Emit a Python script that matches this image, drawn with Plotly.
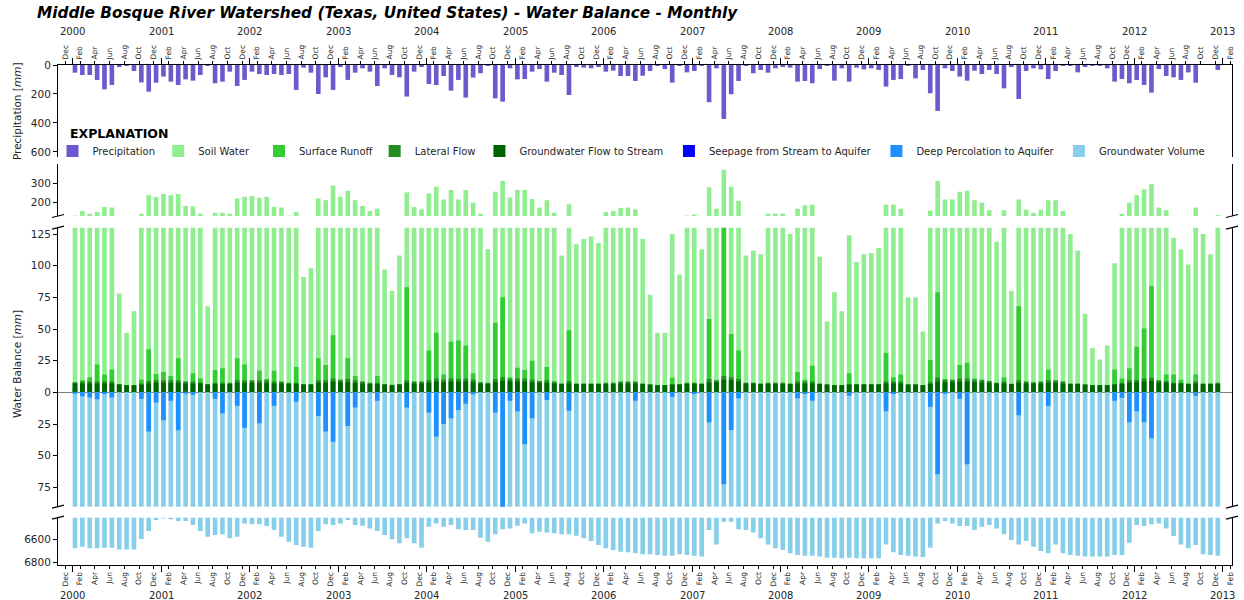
import plotly.graph_objects as go

# ---------------- DATA (monthly, Jan 2000 - Dec 2012) ----------------
start_year = 2000
n_months = 156

precipitation = [
    53, 69, 69, 103, 168, 138, 11, 2, 41, 120, 184, 122,
    80, 115, 138, 99, 108, 69, 3, 126, 115, 46, 145, 103,
    46, 62, 69, 62, 69, 62, 172, 18, 53, 200, 85, 172,
    7, 103, 53, 23, 46, 145, 23, 69, 85, 218, 46, 11,
    131, 138, 76, 177, 103, 225, 87, 57, 2, 230, 253, 23,
    99, 97, 46, 28, 115, 53, 69, 207, 11, 18, 23, 7,
    46, 39, 76, 76, 110, 74, 41, 5, 28, 122, 1, 51,
    41, 5, 257, 23, 372, 202, 110, 3, 57, 34, 53, 23,
    11, 18, 115, 110, 126, 28, 3, 108, 23, 115, 18, 30,
    23, 34, 149, 103, 97, 3, 92, 34, 195, 317, 23, 41,
    80, 108, 39, 62, 34, 62, 161, 11, 234, 41, 23, 30,
    97, 41, 3, 5, 51, 11, 2, 5, 23, 115, 97, 126,
    103, 138, 191, 28, 76, 85, 103, 51, 122, 0, 0, 34,
]

soil_water = [
    132, 156, 142, 151, 177, 174, 78, 47, 64, 142, 238, 229,
    244, 238, 244, 182, 180, 142, 68, 147, 147, 142, 221, 230,
    233, 225, 230, 177, 174, 132, 151, 91, 98, 221, 212, 288,
    230, 261, 212, 182, 156, 168, 97, 80, 108, 253, 177, 165,
    247, 282, 216, 265, 216, 265, 200, 142, 113, 256, 312, 226,
    265, 265, 218, 174, 212, 147, 108, 191, 117, 121, 123, 118,
    151, 156, 172, 174, 165, 121, 77, 47, 47, 125, 93, 132,
    137, 113, 279, 168, 370, 282, 209, 108, 112, 109, 142, 142,
    142, 125, 168, 186, 189, 107, 56, 79, 64, 124, 103, 109,
    110, 114, 189, 189, 168, 75, 75, 48, 158, 312, 216, 216,
    256, 261, 212, 200, 160, 119, 160, 80, 216, 163, 147, 163,
    212, 212, 156, 125, 112, 62, 35, 26, 37, 102, 142, 200,
    238, 268, 295, 174, 160, 122, 113, 101, 174, 125, 109, 135,
]

surface_runoff = [
    3, 9.5, 12, 22, 14, 18, 2, 1, 1, 10, 34, 14.5,
    16, 13, 27, 3, 15, 11, 1, 17.6, 19, 4, 27, 22,
    4, 17, 10.5, 17, 3, 2, 20, 1, 1, 27, 21.6, 45,
    4, 27, 13, 3, 3, 13, 1, 1, 2, 83, 3, 3,
    33, 47, 14, 40, 41, 37, 15, 3, 2, 55, 75, 12,
    19.5, 17.6, 25, 3, 20, 9, 2, 49, 2, 2, 2, 2,
    3, 3, 3, 3, 3, 2, 1, 0.5, 0.5, 11.6, 2, 3,
    3, 2, 58, 3, 131, 46, 33, 3, 2, 2, 3, 3,
    3, 2, 16, 10, 21, 2, 1, 1, 1, 15, 2, 2,
    2, 2, 31, 12, 14, 1, 1, 1, 25.5, 79, 10.5, 3,
    21.6, 23.4, 11, 3, 3, 2, 12, 1, 68, 3, 2, 3,
    18, 3, 3, 2, 2, 1, 0.5, 0.5, 0.5, 18, 11, 19,
    36, 50.5, 84, 3, 14, 14, 10, 2, 14, 2, 2, 1,
]

lateral_flow = [
    8, 8.5, 8.5, 8.5, 8.5, 8.5, 6.5, 5.8, 5.8, 7, 9, 9.5,
    9.5, 9.5, 9.5, 8.5, 8.5, 8, 6.5, 7.5, 7.5, 7.5, 9.5, 9.5,
    9.5, 9.5, 9.5, 8.5, 8.5, 7.5, 7.5, 6.5, 6.5, 9.5, 9.5, 11,
    10, 10.5, 9.5, 8.5, 7.5, 7.5, 6.5, 6, 6.5, 9.5, 8.5, 8.5,
    9.5, 11, 10, 11, 10.5, 11, 10, 8, 7.5, 10.5, 12, 10.5,
    11, 11, 10, 9, 9.5, 8, 7, 9, 7, 7, 7, 7,
    7.5, 7.5, 8.5, 8.5, 8.5, 7, 6.3, 5.8, 5.8, 6.5, 6.5, 7.5,
    7.5, 7, 10.5, 9.5, 13, 12, 10.5, 7.5, 7.5, 7, 7.5, 7.5,
    7.5, 7, 8.5, 8.5, 8.5, 7, 6.3, 5.8, 5.8, 6.5, 6.5, 6.5,
    6.5, 6.5, 8.5, 8.5, 8.5, 6.3, 6.3, 5.8, 8, 11.5, 10, 10,
    11, 11, 10, 10, 9, 7.5, 8.5, 6.8, 9.5, 8.5, 8, 8.5,
    9.5, 9.5, 8.5, 7, 7, 6.3, 5.7, 5.7, 5.7, 6.5, 7.5, 9.5,
    10, 11, 11.5, 9.5, 9, 7.5, 7.5, 7, 8.5, 7, 7, 7.5,
]

groundwater_flow = [
    7, 7, 7, 7, 7, 7, 6, 5.5, 5.5, 6, 7, 7.5,
    7.5, 7.5, 7.5, 7, 7, 7, 6, 6.5, 6.5, 6.5, 7.5, 7.5,
    7.5, 7.5, 7.5, 7, 7, 6.5, 6.5, 6, 6, 7.5, 7.5, 8.5,
    8, 8, 7.5, 7, 6.5, 6.5, 6, 5.5, 6, 7.5, 7, 7,
    7.5, 8.5, 8, 8.5, 8.5, 8.5, 8, 7, 6.5, 8, 9, 8.5,
    8.5, 8.5, 8, 7.5, 7.5, 7, 6.5, 7, 6.5, 6.5, 6.5, 6.5,
    6.5, 6.5, 7, 7, 7, 6.5, 6, 5.5, 5.5, 6, 6, 6.5,
    6.5, 6.5, 8, 8, 10, 9.5, 8.5, 7, 7, 6.5, 6.5, 6.5,
    6.5, 6.5, 7, 7, 7, 6.5, 6, 5.5, 5.5, 6, 6, 6,
    6, 6, 7, 7, 7, 6, 6, 5.5, 6.5, 8.5, 8, 8,
    8.5, 8.5, 8, 8, 7.5, 7, 7, 6.5, 7.5, 7, 7, 7,
    7.5, 7.5, 7, 6.5, 6.5, 6, 5.5, 5.5, 5.5, 6, 6.5, 7.5,
    8, 8.5, 9, 8, 7.5, 7, 7, 6.5, 7, 6.5, 6.5, 6.5,
]

seepage = [0] * 156

deep_percolation = [
    1, 3, 4, 5.5, 1.3, 4, 0, 0, 0, 5, 31, 8,
    22, 6.6, 30, 1, 2, 0, 0, 5, 16.6, 0, 10.5, 28,
    0, 24.5, 0, 10.5, 0, 0, 7.4, 0, 0, 18.7, 31, 39,
    0, 26.6, 12, 0, 0, 6.6, 0, 0, 0, 12, 0, 0,
    16, 35, 25, 20.5, 14, 9, 1.5, 0, 0, 16, 95, 6.6,
    15, 41, 20.5, 0, 6, 0, 0, 14.5, 0, 0, 0, 0,
    0, 0, 0, 0, 6.6, 0, 0, 0, 0, 3.4, 0, 0,
    1.3, 0, 23.7, 0, 72.6, 29.7, 4.7, 0, 0, 0, 0, 0,
    0, 0, 4.7, 1.3, 6.6, 0, 0, 0, 0, 2.6, 0, 0,
    0, 0, 15, 1.3, 0, 0, 0, 0, 11.3, 64.7, 0.8, 0,
    5, 56.8, 0, 0, 0, 0, 0, 0, 18, 0, 0, 0,
    10.8, 0, 0, 0, 0, 0, 0, 0, 0, 6.6, 4.2, 23.7,
    15, 23.7, 36.3, 0, 0, 0, 0, 0, 2.6, 0, 0, 0,
]

groundwater_volume = [
    6680, 6666, 6680, 6680, 6674, 6674, 6689, 6689, 6689, 6600, 6531, 6437,
    6423, 6431, 6446, 6446, 6480, 6531, 6580, 6566, 6560, 6594, 6580, 6466,
    6474, 6474, 6489, 6523, 6580, 6623, 6651, 6666, 6674, 6531, 6474, 6480,
    6466, 6437, 6480, 6486, 6509, 6531, 6566, 6603, 6637, 6594, 6637, 6674,
    6494, 6466, 6494, 6480, 6517, 6523, 6523, 6589, 6623, 6560, 6517, 6509,
    6486, 6466, 6551, 6537, 6543, 6551, 6560, 6560, 6571, 6594, 6617, 6651,
    6680, 6694, 6709, 6714, 6723, 6731, 6731, 6737, 6743, 6743, 6731, 6737,
    6743, 6751, 6523, 6646, 6451, 6451, 6517, 6523, 6543, 6594, 6646, 6680,
    6694, 6723, 6737, 6743, 6743, 6751, 6760, 6760, 6766, 6760, 6766, 6766,
    6766, 6766, 6646, 6714, 6737, 6743, 6751, 6755, 6674, 6466, 6446, 6466,
    6489, 6489, 6523, 6494, 6480, 6509, 6560, 6609, 6646, 6617, 6666, 6703,
    6723, 6646, 6723, 6737, 6743, 6751, 6751, 6751, 6751, 6737, 6737, 6631,
    6480, 6489, 6474, 6466, 6509, 6574, 6646, 6680, 6651, 6731, 6737, 6743,
]

month_tick_names = ["Dec", "Feb", "Apr", "Jun", "Aug", "Oct"]
year_labels = [str(y) for y in range(2000, 2014)]

# ---------------- GEOMETRY ----------------
W, H = 1244, 600
L, R, T, B = 58, 9, 65, 35
PW, PH = W - L - R, H - T - B
FONT = "DejaVu Sans"
TXT = "#262626"


def py(pix):
    return (H - B - pix) / PH


def px(pix):
    return (pix - L) / PW


bar_w = 0.63
x_bar = [i + bar_w / 2 for i in range(n_months)]  # months since Jan 2000
x_range = [-1.99, 157.24]

COL = dict(
    precip="#6A5ACD", soil="#90EE90", runoff="#32CD32", lateral="#228B22",
    gw="#006400", seep="#0000FF", deep="#1E90FF", gwvol="#87CEEB",
)

# legend entry text start positions (pixels) in the explanation row
legend_text_x = {
    "Precipitation": 91, "Soil Water": 197, "Surface Runoff": 298,
    "Lateral Flow": 414, "Groundwater Flow to Stream": 519,
    "Seepage from Stream to Aquifer": 709, "Deep Percolation to Aquifer": 917,
    "Groundwater Volume": 1100,
}
legend_ids = {name: ("legend" if k == 0 else f"legend{k + 1}")
              for k, name in enumerate(legend_text_x)}

fig = go.Figure()


def add_bar(y, color, name, axis, show):
    fig.add_trace(go.Bar(
        x=x_bar, y=y, width=bar_w, name=name,
        marker=dict(color=color, line=dict(width=0)),
        xaxis="x" + axis, yaxis="y" + axis,
        showlegend=show, legend=legend_ids[name], hoverinfo="skip",
    ))


# Panel 1 - precipitation
add_bar(precipitation, COL["precip"], "Precipitation", "", True)
# Panel 2 - soil water upper part
add_bar(soil_water, COL["soil"], "Soil Water", "2", False)
# Panel 3 - main water balance
add_bar(soil_water, COL["soil"], "Soil Water", "3", True)
add_bar(surface_runoff, COL["runoff"], "Surface Runoff", "3", True)
add_bar(lateral_flow, COL["lateral"], "Lateral Flow", "3", True)
add_bar(groundwater_flow, COL["gw"], "Groundwater Flow to Stream", "3", True)
add_bar([-v for v in seepage], COL["seep"], "Seepage from Stream to Aquifer", "3", True)
add_bar([-v for v in groundwater_volume], COL["gwvol"], "Groundwater Volume", "3", True)
add_bar([-v for v in deep_percolation], COL["deep"], "Deep Percolation to Aquifer", "3", True)
# Panel 4 - groundwater volume
add_bar(groundwater_volume, COL["gwvol"], "Groundwater Volume", "4", False)

month_vals = list(range(-1, 158, 2))
month_text = [month_tick_names[k % 6] for k in range(len(month_vals))]
year_vals = [12 * k for k in range(len(year_labels))]

xbase = dict(
    range=x_range, showgrid=False, zeroline=False,
    tickvals=month_vals, ticktext=month_text, tickangle=-90,
    tickfont=dict(family=FONT, size=7.5, color=TXT),
    ticks="outside", ticklen=3, tickcolor="black", tickwidth=1,
    minor=dict(tickvals=year_vals, ticks="outside", ticklen=6,
               tickcolor="black", tickwidth=1.2),
)
xhidden = dict(range=x_range, matches="x", showgrid=False, zeroline=False,
               showticklabels=False, ticks="", showline=False)

ybase = dict(
    showgrid=False, showline=True, mirror=True, linecolor="black", linewidth=1,
    ticks="outside", ticklen=4, tickcolor="black",
    tickfont=dict(family=FONT, size=10.5, color=TXT), zeroline=False,
)

layout_legends = {}
for name, tx in legend_text_x.items():
    layout_legends[legend_ids[name]] = dict(
        orientation="h", x=px(tx - 38.5), xanchor="left", y=py(151),
        yanchor="middle", font=dict(family=FONT, size=10, color=TXT),
        bgcolor="rgba(0,0,0,0)",
    )

fig.update_layout(
    width=W, height=H,
    margin=dict(l=L, r=R, t=T, b=B),
    paper_bgcolor="white", plot_bgcolor="rgba(0,0,0,0)",
    barmode="overlay",
    font=dict(family=FONT, color=TXT),
    xaxis=dict(**xbase, side="top", anchor="y", showline=True,
               linecolor="black", linewidth=1),
    xaxis2=dict(**xhidden, anchor="y2"),
    xaxis3=dict(**xhidden, anchor="y3"),
    xaxis4=dict(**xbase, matches="x", side="bottom", anchor="y4",
                showline=True, linecolor="black", linewidth=1),
    yaxis=dict(**ybase, domain=[py(157), 1.0], range=[635, 0],
               tickvals=[0, 200, 400, 600], anchor="x"),
    yaxis2=dict(**ybase, domain=[py(216), py(164)], range=[130, 400],
                tickvals=[200, 300], anchor="x2"),
    yaxis3=dict(**{k: v for k, v in ybase.items() if k != "zeroline"},
                domain=[py(506.7), py(227.7)], range=[-90.3, 130],
                tickvals=[-75, -50, -25, 0, 25, 50, 75, 100, 125],
                ticktext=["75", "50", "25", "0", "25", "50", "75", "100", "125"],
                zeroline=True, zerolinecolor="#808080", zerolinewidth=0.8,
                anchor="x3"),
    yaxis4=dict(**ybase, domain=[0, py(517.7)], range=[6823, 6417],
                tickvals=[6600, 6800], anchor="x4"),
    showlegend=True,
    **layout_legends,
)

ann = []
# title
ann.append(dict(text="<b><i>Middle Bosque River Watershed (Texas, United States) - Water Balance - Monthly</i></b>",
                x=px(35), y=py(13), xref="paper", yref="paper", xanchor="left", yanchor="middle",
                showarrow=False, font=dict(family=FONT, size=15.3, color="black")))
# year labels top and bottom
for v, lab in zip(year_vals, year_labels):
    for ypix in (32, 595):
        ann.append(dict(text=lab, x=v, xref="x", y=py(ypix), yref="paper",
                        xanchor="center", yanchor="middle", showarrow=False,
                        font=dict(family=FONT, size=10, color=TXT)))
# axis titles
ann.append(dict(text="Precipitation [<i>mm</i>]", x=px(17), y=py(111), xref="paper", yref="paper",
                textangle=-90, showarrow=False, xanchor="center", yanchor="middle",
                font=dict(family=FONT, size=10.5, color=TXT)))
ann.append(dict(text="Water Balance [<i>mm</i>]", x=px(17), y=py(364), xref="paper", yref="paper",
                textangle=-90, showarrow=False, xanchor="center", yanchor="middle",
                font=dict(family=FONT, size=10.5, color=TXT)))
ann.append(dict(text="<b>EXPLANATION</b>", x=px(68), y=py(133), xref="paper", yref="paper",
                xanchor="left", yanchor="middle", showarrow=False,
                font=dict(family=FONT, size=12.5, color="black")))
fig.update_layout(annotations=ann)

# broken-axis marks
shapes = []
for ypix in (216, 227.7, 506.7, 517.7):
    for xa in (0, 1):
        shapes.append(dict(type="line", xref="paper", yref="paper",
                           xsizemode="pixel", ysizemode="pixel",
                           xanchor=xa, yanchor=py(ypix),
                           x0=-6, x1=6, y0=-1.5, y1=1.5,
                           line=dict(color="black", width=1.2)))
fig.update_layout(shapes=shapes)

fig.write_html("out.html")
